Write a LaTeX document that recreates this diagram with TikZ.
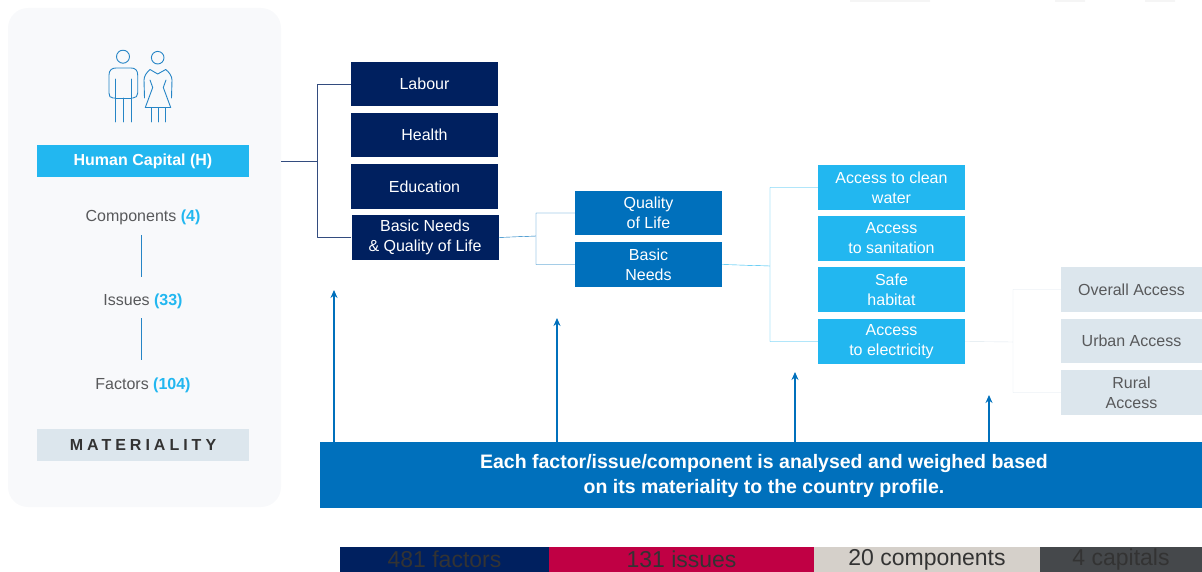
\documentclass[tikz,border=0pt]{standalone}
\usepackage{fontspec}
\setmainfont{Liberation Sans}
\usetikzlibrary{arrows.meta}
\definecolor{navyc}{HTML}{00205F}
\definecolor{bluec}{HTML}{0070BC}
\definecolor{skyc}{HTML}{22B7F0}
\definecolor{palec}{HTML}{DCE6ED}
\definecolor{panelc}{HTML}{F8F9FB}
\definecolor{crimsonc}{HTML}{C00044}
\definecolor{beigec}{HTML}{D5D0CA}
\definecolor{slatec}{HTML}{45484B}
\definecolor{textc}{HTML}{58595B}
\definecolor{darkc}{HTML}{333333}
\tikzset{
	box/.style={inner sep=0pt, align=center, minimum width=147pt, minimum height=44.5pt, font=\fontsize{16}{20}\selectfont},
	navybox/.style={box, fill=navyc, text=white},
	bluebox/.style={box, fill=bluec, text=white},
	skybox/.style={box, fill=skyc, text=white},
	palebox/.style={box, fill=palec, text=textc, minimum width=141pt},
	count/.style={text=textc, inner sep=0pt, font=\fontsize{16}{20}\selectfont},
	strip/.style={inner sep=0pt, minimum height=25pt, font=\fontsize{23}{23}\selectfont},
	icon/.style={draw=bluec!85!white, line width=.9pt, line join=round, line cap=round}
}
\begin{document}
\begin{tikzpicture}[x=1pt, y=-1pt, line join=round, >={Stealth[length=8pt,width=7pt]}]
	\useasboundingbox (0,0) rectangle (1202,572);
	% faint marks along the top edge
	\fill[black!4] (850,0) rectangle (930,2) (1055,0) rectangle (1085,2) (1145,0) rectangle (1175,2);
	% left panel
	\node[fill=panelc, rounded corners=20pt, inner sep=0pt, minimum width=273pt, minimum height=499pt] (panel) at (144.5,257.5) {};
	\node[inner sep=0pt, fill=skyc, text=white, minimum width=212pt, minimum height=32pt, font=\fontsize{16}{20}\selectfont\bfseries] (human) at (143,161) {Human Capital (H)};
	\node[count] (components) at (143,217) {Components \textcolor{skyc}{\textbf{(4)}}};
	\node[count] (issues) at (143,301) {Issues \textcolor{skyc}{\textbf{(33)}}};
	\node[count] (factors) at (143,385) {Factors \textcolor{skyc}{\textbf{(104)}}};
	\node[inner sep=0pt, fill=palec, text=darkc, minimum width=212pt, minimum height=32pt, font=\fontsize{16}{20}\selectfont\bfseries] (materiality) at (143,445) {\addfontfeature{LetterSpace=25}MATERIALITY};
	\draw[bluec!85!white] (141,235)--(141,277) (141,318)--(141,360);
	% the two figures
	\draw[icon] (123,56.7) circle (6.5);
	\draw[icon] (115,122)--(115,79) (131.7,122)--(131.7,79) (123.3,122)--(123.3,98) (115,98)--(131.7,98);
	\draw[icon] (115,98)--(113,98) .. controls (110,98) and (109,96) .. (109,93)--(109,75) .. controls (109,70) and (112,68) .. (116,68)--(131,68) .. controls (135,68) and (137.7,70) .. (137.7,75)--(137.7,93) .. controls (137.7,96) and (136,98) .. (133,98)--(131.7,98);
	\draw[icon] (157.7,57.7) circle (6.3);
	\draw[icon] (144.5,98)--(144,80) .. controls (144,76) and (147,72) .. (150,69.5)--(157.7,74)--(165.7,69.5) .. controls (169,72) and (172,76) .. (172,80)--(171.5,98);
	\draw[icon] (150,80)--(152.7,87.5)--(145.3,107.5)--(170.7,107.5)--(163.3,87.5)--(166,80);
	\draw[icon] (151.7,107.5)--(151.7,122) (158,107.5)--(158,122) (165.7,107.5)--(165.7,122);
	% boxes
	\foreach \n/\x/\y/\t in {labour/424.5/84/Labour,health/424.5/135/Health,education/424.5/186.5/Education,basic/425/237.5/{Basic Needs\\\& Quality of Life}}
	\node[navybox] (\n) at (\x,\y) {\t};
	\foreach \n/\y/\t in {quality/213/{Quality\\of Life},needs/264.5/{Basic\\Needs}}
	\node[bluebox] (\n) at (648.5,\y) {\t};
	\foreach \n/\y/\t in {water/187.5/{Access to clean\\water},sanitation/238.5/{Access\\to sanitation},habitat/289.5/{Safe\\habitat},electricity/341.5/{Access\\to electricity}}
	\node[skybox] (\n) at (891.5,\y) {\t};
	\foreach \n/\y/\t in {overall/289.5/Overall Access,urban/341/Urban Access,rural/392.5/{Rural\\Access}}
	\node[palebox] (\n) at (1131.5,\y) {\t};
	% branch points
	\path
	(317,161) coordinate (J1)
	(536,236) coordinate (J2)
	(770,266) coordinate (J3)
	(1013,342) coordinate (J4)
	;
	\draw[navyc!80!white] (panel.east |- human)--(J1) (labour.west)-|(J1) (basic.west)-|(J1);
	\draw[bluec] (basic.east)--(J2) (quality.west)-|(J2) (needs.west)-|(J2);
	\draw[skyc] (needs.east)--(J3) (water.west)-|(J3) (electricity.west)-|(J3);
	\draw[palec] (electricity.east)--(J4) (overall.west)-|(J4) (rural.west)-|(J4);
	% banner and arrows
	\node[inner sep=0pt, fill=bluec, text=white, align=center, minimum width=882pt, minimum height=66pt] (banner) at (761,475) {};
	\node[text=white, align=center, inner sep=0pt, font=\fontsize{19.5}{25}\selectfont\bfseries] (note) at (764,475.5) {Each factor/issue/component is analysed and weighed based\\on its materiality to the country profile.};
	\foreach \x/\y in {334/290,557/318,795/372,989/395}
	\draw[->, bluec, line width=2pt] (\x,442)--(\x,\y);
	% bottom strip
	\node[strip, fill=navyc, text=darkc, minimum width=209pt] (factorsbar) at (444.5,559.5) {481 factors};
	\node[strip, fill=crimsonc, text=darkc, minimum width=265pt] (issuesbar) at (681.5,559.5) {131 issues};
	\node[strip, fill=beigec, text=darkc, minimum width=226pt] (componentsbar) at (927,559.5) {20 components};
	\node[strip, fill=slatec, text=darkc, minimum width=162pt] (capitalsbar) at (1121,559.5) {4 capitals};
\end{tikzpicture}
\end{document}
